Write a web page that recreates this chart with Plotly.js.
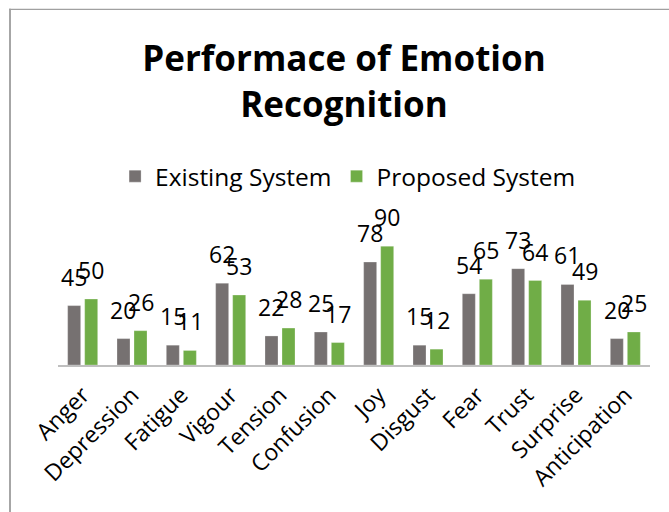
<!DOCTYPE html>
<html>
<head>
<meta charset="utf-8">
<script src="https://cdn.plot.ly/plotly-3.0.1.min.js"></script>
<style>
  html, body { margin: 0; padding: 0; background: #fff; }
  #chart { width: 669px; height: 512px; }
</style>
</head>
<body>
<div id="chart"></div>
<script>
const categories = ["Anger", "Depression", "Fatigue", "Vigour", "Tension", "Confusion", "Joy", "Disgust", "Fear", "Trust", "Surprise", "Anticipation"];
const existingSystem = [45, 20, 15, 62, 22, 25, 78, 15, 54, 73, 61, 20];
const proposedSystem = [50, 26, 11, 53, 28, 17, 90, 12, 65, 64, 49, 25];
const seriesNames = ["Existing System", "Proposed System"];
const seriesColors = ["#767171", "#70AD47"];

const W = 669, H = 512;
const margin = { l: 58, r: 19, t: 233, b: 146.5 };
const plotW = W - margin.l - margin.r;
const plotH = H - margin.t - margin.b;
const bargap = 0.31;
const slot = plotW / categories.length * (1 - bargap) / 2;

const font = "'Open Sans', 'DejaVu Sans', sans-serif";

const traces = [existingSystem, proposedSystem].map((vals, k) => ({
  type: "bar",
  name: seriesNames[k],
  x: categories,
  y: vals,
  marker: { color: seriesColors[k], line: { color: "rgba(255,255,255,0.35)", width: 0.8 } },
  hoverinfo: "x+y"
}));

const annotations = [];
[existingSystem, proposedSystem].forEach((vals, k) => {
  vals.forEach((v, i) => {
    annotations.push({
      x: categories[i], y: v, xref: "x", yref: "y",
      text: String(v), showarrow: false,
      xanchor: "center", yanchor: "bottom",
      xshift: (k === 0 ? -1 : 1) * slot / 2,
      yshift: 11,
      font: { family: font, size: 23, color: "#000" }
    });
  });
});

const px2x = p => (p - margin.l) / plotW;
const py2y = p => (H - margin.b - p) / plotH;

const shapes = [
  { type: "line", xref: "paper", yref: "paper", x0: px2x(10), x1: px2x(10), y0: py2y(520), y1: py2y(8), line: { color: "#A6A6A6", width: 2 } },
  { type: "line", xref: "paper", yref: "paper", x0: px2x(9), x1: px2x(680), y0: py2y(8.5), y1: py2y(8.5), line: { color: "#A0A0A0", width: 1.2 } }
];

const layout = {
  width: W, height: H,
  margin: margin,
  paper_bgcolor: "#fff",
  plot_bgcolor: "#fff",
  barmode: "group",
  bargap: bargap,
  bargroupgap: 0.235,
  title: {
    text: "<b>Performace of Emotion<br>Recognition</b>",
    font: { family: font, size: 35, color: "#000" },
    x: 344 / W, xref: "container", xanchor: "center",
    y: 1 - 71 / H, yref: "container", yanchor: "top"
  },
  showlegend: true,
  legend: {
    orientation: "h",
    x: 0.49, xanchor: "center",
    y: py2y(176), yanchor: "middle",
    font: { family: font, size: 24.5, color: "#000" },
    traceorder: "normal",
    itemclick: false
  },
  xaxis: {
    type: "category",
    tickangle: -45,
    tickfont: { family: font, size: 23, color: "#000" },
    ticklabelstandoff: 6,
    showline: true, linecolor: "#BFBFBF", linewidth: 1.5,
    ticks: "", showgrid: false, zeroline: false,
    fixedrange: true
  },
  yaxis: {
    range: [0, 100],
    visible: false,
    showgrid: false, zeroline: false,
    fixedrange: true
  },
  annotations: annotations,
  shapes: shapes
};

Plotly.newPlot("chart", traces, layout, { displayModeBar: false, staticPlot: true });
</script>
</body>
</html>
